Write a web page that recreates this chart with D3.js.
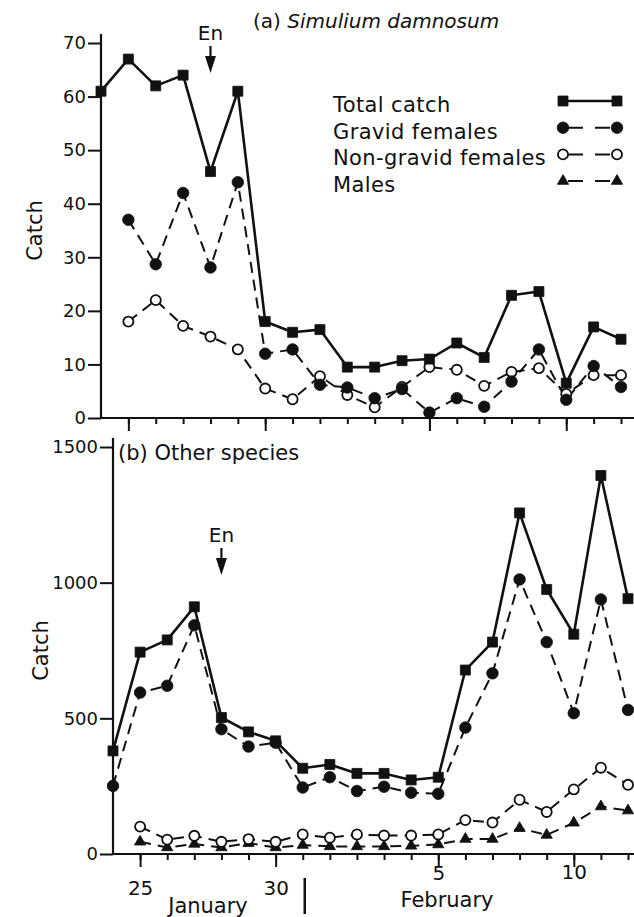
<!DOCTYPE html>
<html>
<head>
<meta charset="utf-8">
<script src="https://cdn.jsdelivr.net/npm/d3@7"></script>
<style>
  body { margin: 0; background: #fff; }
  svg { display: block; font-family: "DejaVu Sans", sans-serif; }
</style>
</head>
<body>
<svg id="chart" width="634" height="917"></svg>
<script>
// categories: one trap catch per day, 24 January to 12 February
var days = ["Jan 24", "Jan 25", "Jan 26", "Jan 27", "Jan 28", "Jan 29", "Jan 30", "Jan 31",
            "Feb 1", "Feb 2", "Feb 3", "Feb 4", "Feb 5", "Feb 6", "Feb 7", "Feb 8",
            "Feb 9", "Feb 10", "Feb 11", "Feb 12"];
var labelledDays = ["Jan 25", "Jan 30", "Feb 5", "Feb 10"];
var dayTickLabels = ["25", "30", "5", "10"];
var months = ["January", "February"];
var seriesNames = ["Total catch", "Gravid females", "Non-gravid females", "Males"];
var enDay = "Jan 28";

// (a) Simulium damnosum
var totalA     = [61, 67, 62, 64, 46, 61, 18, 16, 16.5, 9.5, 9.5, 10.7, 11, 14, 11.3, 22.9, 23.6, 6.5, 17, 14.7];
var gravidA    = [null, 37, 28.7, 42, 28.1, 44, 12, 12.8, 6.2, 5.7, 3.7, 5.4, 1, 3.7, 2.1, 6.8, 12.8, 3.4, 9.7, 5.8];
var nongravidA = [null, 18, 22, 17.2, 15.2, 12.8, 5.5, 3.5, 7.8, 4.3, 2, 5.8, 9.5, 9, 6, 8.6, 9.3, 4.5, 8, 8];
var yTicksA = [0, 10, 20, 30, 40, 50, 60, 70];

// (b) Other species
var totalB     = [380, 744, 789, 911, 503, 450, 417, 316, 330, 297, 297, 273, 283, 678, 781, 1257, 975, 810, 1395, 941];
var gravidB    = [251, 595, 620, 843, 460, 396, 410, 245, 283, 232, 248, 226, 222, 466, 666, 1012, 781, 519, 938, 531];
var nongravidB = [null, 101, 53, 67, 45, 55, 45, 72, 60, 72, 68, 68, 72, 125, 116, 200, 155, 238, 318, 255];
var malesB     = [null, 45, 24, 37, 24, 40, 24, 33, 28, 28, 28, 30, 35, 55, 55, 95, 70, 115, 175, 160];
var yTicksB = [0, 500, 1000, 1500];

var ink = '#111';
var W = 634, H = 917;
// the original day labels sit lower under January than under February
var labelDrop = [27, 27, 12, 11];

var styles = {
    total:     { symbol: d3.symbolSquare,   size: 100, fill: ink,    dash: null,   width: 2.6 },
    gravid:    { symbol: d3.symbolCircle,   size: 105, fill: ink,    dash: '11,7', width: 2 },
    nongravid: { symbol: d3.symbolCircle,   size: 80,  fill: '#fff', dash: '11,7', width: 2 },
    males:     { symbol: d3.symbolTriangle, size: 55,  fill: ink,    dash: '11,7', width: 2 }
};

var svg = d3.select('#chart');
svg.append('rect').attr('width', W).attr('height', H).attr('fill', '#fff');

function marker(sel, st) {
    sel.attr('d', d3.symbol().type(st.symbol).size(st.size))
        .attr('fill', st.fill)
        .attr('stroke', ink)
        .attr('stroke-width', st.fill === '#fff' ? 1.8 : 0.8);
}

function drawPanel(o) {
    var g = svg.append('g');
    var x = d3.scalePoint().domain(days).range(o.xRange);
    var y = d3.scaleLinear().domain([0, o.yMax]).range(o.yRange);
    var x0 = o.xRange[0], y0 = o.yRange[0];

    // y axis
    var ya = g.append('g')
        .attr('transform', `translate(${x0},0)`)
        .call(d3.axisLeft(y).tickValues(o.yTicks).tickSize(13).tickPadding(2).tickFormat(d3.format('d')));
    ya.select('.domain').remove();
    ya.selectAll('line').attr('stroke', ink).attr('stroke-width', 2);
    ya.selectAll('text').attr('fill', ink).style('font-size', '18px').style('font-family', '"DejaVu Sans", sans-serif');
    g.append('line')
        .attr('x1', x0).attr('x2', x0)
        .attr('y1', y0 + 1).attr('y2', o.yRange[1] - 9)
        .attr('stroke', ink).attr('stroke-width', 2.2);

    // x axis: short tick per day, long ticks on labelled days
    var xa = g.append('g').attr('transform', `translate(0,${y0})`);
    xa.append('g')
        .call(d3.axisBottom(x).tickValues(days.slice(1)).tickSize(6).tickFormat(''));
    var xl = xa.append('g')
        .call(d3.axisBottom(x).tickValues(labelledDays).tickSize(13)
            .tickFormat(d => o.xLabels ? dayTickLabels[labelledDays.indexOf(d)] : ''));
    xl.selectAll('.tick text').attr('y', d => labelDrop[labelledDays.indexOf(d)]);
    xa.selectAll('.domain').remove();
    xa.selectAll('line').attr('stroke', ink).attr('stroke-width', 2);
    xa.selectAll('text').attr('fill', ink).style('font-size', '20px').style('font-family', '"DejaVu Sans", sans-serif');
    g.append('line')
        .attr('x1', x0).attr('x2', W)
        .attr('y1', y0).attr('y2', y0)
        .attr('stroke', ink).attr('stroke-width', 2.2);

    // lines
    var line = d3.line()
        .defined(d => d[1] != null)
        .x(d => x(d[0]))
        .y(d => y(d[1]));
    o.series.forEach(s => {
        var st = styles[s.key];
        g.append('path')
            .datum(days.map((d, i) => [d, s.values[i]]))
            .attr('d', line)
            .attr('fill', 'none')
            .attr('stroke', ink)
            .attr('stroke-width', st.width)
            .attr('stroke-linejoin', 'round')
            .attr('stroke-dasharray', st.dash);
    });
    // markers
    o.series.forEach(s => {
        var st = styles[s.key];
        g.selectAll(null)
            .data(days.map((d, i) => [d, s.values[i]]).filter(d => d[1] != null))
            .enter().append('path')
            .attr('transform', d => `translate(${x(d[0])},${y(d[1])})`)
            .call(marker, st);
    });

    // "En" arrow
    var ex = x(enDay);
    g.append('text')
        .attr('x', ex).attr('y', o.enY)
        .attr('text-anchor', 'middle')
        .attr('fill', ink)
        .style('font-size', '20px')
        .text('En');
    g.append('line')
        .attr('x1', ex).attr('x2', ex)
        .attr('y1', o.enY + 6).attr('y2', o.enY + 20)
        .attr('stroke', ink).attr('stroke-width', 2.2);
    g.append('path')
        .attr('d', `M${ex - 5.5},${o.enY + 16}L${ex + 5.5},${o.enY + 16}L${ex},${o.enY + 33}Z`)
        .attr('fill', ink);

    // "Catch"
    g.append('text')
        .attr('transform', `translate(${o.catchX},${(o.yRange[0] + o.yRange[1]) / 2}) rotate(-90)`)
        .attr('text-anchor', 'middle')
        .attr('fill', ink)
        .style('font-size', '21px')
        .text('Catch');

    return { x: x, y: y };
}

// (a)
drawPanel({
    xRange: [101, 621], yRange: [418, 43], yMax: 70, yTicks: yTicksA,
    xLabels: false, enY: 40, catchX: 42,
    series: [
        { key: 'nongravid', values: nongravidA },
        { key: 'gravid', values: gravidA },
        { key: 'total', values: totalA }
    ]
});
var ta = svg.append('text')
    .attr('x', 253).attr('y', 28)
    .attr('fill', ink)
    .style('font-size', '20px');
ta.append('tspan').text('(a) ');
ta.append('tspan').style('font-style', 'italic').text('Simulium damnosum');

// legend
var legendKeys = ['total', 'gravid', 'nongravid', 'males'];
var lg = svg.append('g');
legendKeys.forEach((k, i) => {
    var by = 112 + i * 26.7;
    var st = styles[k];
    lg.append('text')
        .attr('x', 333).attr('y', by)
        .attr('fill', ink)
        .style('font-size', '21px')
        .style('letter-spacing', '0.4px')
        .text(seriesNames[i]);
    lg.append('line')
        .attr('x1', 568).attr('x2', 612)
        .attr('y1', by - 11).attr('y2', by - 11)
        .attr('stroke', ink).attr('stroke-width', st.width)
        .attr('stroke-dasharray', st.dash ? '15,12' : null);
    [563, 617].forEach(mx => {
        lg.append('path')
            .attr('transform', `translate(${mx},${by - 11})`)
            .call(marker, st);
    });
});

// (b)
var pb = drawPanel({
    xRange: [113, 628], yRange: [854, 447], yMax: 1500, yTicks: yTicksB,
    xLabels: true, enY: 542, catchX: 48,
    series: [
        { key: 'males', values: malesB },
        { key: 'gravid', values: gravidB },
        { key: 'nongravid', values: nongravidB },
        { key: 'total', values: totalB }
    ]
});
svg.append('text')
    .attr('x', 118).attr('y', 460)
    .attr('fill', ink)
    .style('font-size', '21px')
    .text('(b) Other species');

// month labels and divider
svg.append('text')
    .attr('x', 208).attr('y', 913)
    .attr('text-anchor', 'middle').attr('fill', ink)
    .style('font-size', '21px')
    .text(months[0]);
svg.append('text')
    .attr('x', 447).attr('y', 907)
    .attr('text-anchor', 'middle').attr('fill', ink)
    .style('font-size', '21px')
    .text(months[1]);
var divX = pb.x('Jan 31') + 2;
svg.append('line')
    .attr('x1', divX).attr('x2', divX)
    .attr('y1', 878).attr('y2', 914)
    .attr('stroke', ink).attr('stroke-width', 2.5);
</script>
</body>
</html>
